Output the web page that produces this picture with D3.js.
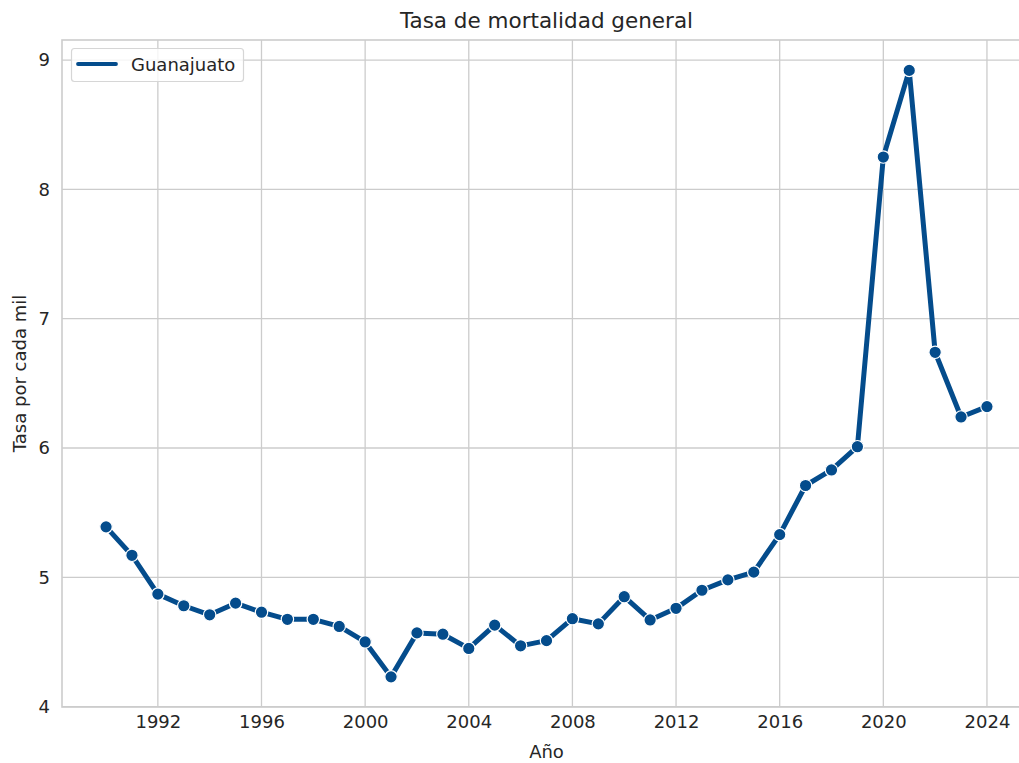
<!DOCTYPE html>
<html><head><meta charset="utf-8">
<script src="https://cdn.jsdelivr.net/npm/d3@7"></script>
<style>body{margin:0;background:#fff}svg{display:block}text{font-family:"DejaVu Sans",sans-serif;fill:#262626}</style>
</head><body>
<script>
const years = [1990,1991,1992,1993,1994,1995,1996,1997,1998,1999,2000,2001,2002,2003,2004,2005,2006,2007,2008,2009,2010,2011,2012,2013,2014,2015,2016,2017,2018,2019,2020,2021,2022,2023,2024];
const rates = [5.39,5.17,4.87,4.78,4.71,4.80,4.73,4.675,4.675,4.62,4.50,4.23,4.57,4.56,4.45,4.63,4.47,4.51,4.68,4.64,4.85,4.67,4.76,4.90,4.98,5.04,5.33,5.71,5.83,6.01,8.25,8.92,6.74,6.24,6.32];
const xTicks = [1992,1996,2000,2004,2008,2012,2016,2020,2024];
const yTicks = [4,5,6,7,8,9];
const seriesName = "Guanajuato";
const title = "Tasa de mortalidad general";
const xLabel = "Año";
const yLabel = "Tasa por cada mil";

const W = 1019, H = 763;
const L = 62, R = 1031, T = 40, B = 707;
const color = "#044c8c";

const svg = d3.select("body").append("svg").attr("width", W).attr("height", H);
const x = d3.scaleLinear().domain([1988.3, 2025.7]).range([L, R]);
const y = d3.scaleLinear().domain([3.997, 9.155]).range([B, T]);

const grid = svg.append("g");
grid.selectAll(".gx").data(xTicks).join("line")
  .attr("x1", d => x(d)).attr("x2", d => x(d)).attr("y1", T).attr("y2", B)
  .attr("stroke", "#cccccc").attr("stroke-width", 1.3);
grid.selectAll(".gy").data(yTicks).join("line")
  .attr("x1", L).attr("x2", R).attr("y1", d => y(d)).attr("y2", d => y(d))
  .attr("stroke", "#cccccc").attr("stroke-width", 1.3);

svg.append("rect").attr("x", L).attr("y", T).attr("width", R - L).attr("height", B - T)
  .attr("fill", "none").attr("stroke", "#cccccc").attr("stroke-width", 1.6);

const xAxis = svg.append("g").attr("transform", `translate(0,${B})`)
  .call(d3.axisBottom(x).tickValues(xTicks).tickFormat(d3.format("d")).tickSize(0).tickPadding(8));
xAxis.select(".domain").remove();
xAxis.selectAll("text").style("font-size", "18px").attr("fill", "#262626");

const yAxis = svg.append("g").attr("transform", `translate(${L},0)`)
  .call(d3.axisLeft(y).tickValues(yTicks).tickFormat(d3.format("d")).tickSize(0).tickPadding(12));
yAxis.select(".domain").remove();
yAxis.selectAll("text").style("font-size", "18px").attr("fill", "#262626");

const line = d3.line().x((d, i) => x(years[i])).y(d => y(d));
svg.append("path").datum(rates).attr("d", line).attr("fill", "none")
  .attr("stroke", color).attr("stroke-width", 5).attr("stroke-linejoin", "round").attr("stroke-linecap", "round");
svg.selectAll(".pt").data(rates).join("circle")
  .attr("cx", (d, i) => x(years[i])).attr("cy", d => y(d)).attr("r", 6.2)
  .attr("fill", color).attr("stroke", "#fff").attr("stroke-width", 1.2);

svg.append("text").attr("x", (L + R) / 2).attr("y", 28).attr("text-anchor", "middle")
  .style("font-size", "21.5px").text(title);
svg.append("text").attr("x", (L + R) / 2).attr("y", 758).attr("text-anchor", "middle")
  .style("font-size", "18px").text(xLabel);
svg.append("text").attr("transform", `translate(26,${(T + B) / 2}) rotate(-90)`).attr("text-anchor", "middle")
  .style("font-size", "18px").text(yLabel);

const lg = svg.append("g");
lg.append("rect").attr("x", 71.5).attr("y", 48.5).attr("width", 172).attr("height", 33).attr("rx", 3)
  .attr("fill", "#fff").attr("fill-opacity", 0.8).attr("stroke", "#d6d6d6").attr("stroke-width", 1.2);
lg.append("line").attr("x1", 78).attr("x2", 116).attr("y1", 64).attr("y2", 64)
  .attr("stroke", color).attr("stroke-width", 3.8).attr("stroke-linecap", "round");
lg.append("text").attr("x", 131).attr("y", 70.5).style("font-size", "18px").text(seriesName);
</script>
</body></html>
